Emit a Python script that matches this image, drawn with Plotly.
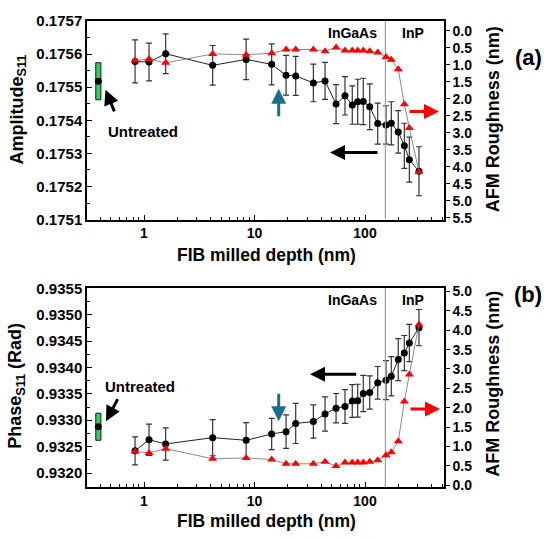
import numpy as np
import plotly.graph_objects as go

# ---------------- data ----------------
depth_nm = [0.83, 1.11, 1.57, 4.18, 8.4, 14.3, 19.3, 23.6, 34.1, 43.5, 54.7, 65.9,
            76.7, 85.9, 96.5, 110.4, 130.3, 155, 173, 200, 227, 252, 308]

amplitude_s11 = [0.175578, 0.175576, 0.175601, 0.175566, 0.175584, 0.175569, 0.175536,
                 0.175534, 0.175513, 0.175519, 0.175449, 0.175474, 0.175446, 0.175456,
                 0.175457, 0.175441, 0.175390, 0.175386, 0.175391, 0.175365, 0.175323,
                 0.175281, 0.175246]
amplitude_err = [6.5e-5, 5.7e-5, 6.0e-5, 6.0e-5, 6.1e-5, 6.2e-5, 6.0e-5, 5.9e-5, 5.7e-5,
                 5.6e-5, 5.9e-5, 5.8e-5, 5.8e-5, 6.8e-5, 7.0e-5, 6.9e-5, 6.2e-5, 5.8e-5,
                 6.5e-5, 6.4e-5, 6.8e-5, 6.8e-5, 7.4e-5]

phase_s11 = [0.93242, 0.93263, 0.93255, 0.93267, 0.93262, 0.93274, 0.932783, 0.932939,
             0.932976, 0.933117, 0.933228, 0.933259, 0.933365, 0.93337, 0.933506,
             0.933524, 0.933709, 0.933759, 0.933833, 0.934148, 0.934272, 0.934463,
             0.934754]
phase_err = [0.000265, 0.000296, 0.000306, 0.000343, 0.000333, 0.000296, 0.000318,
             0.00038, 0.000315, 0.000324, 0.000278, 0.00032, 0.000311, 0.000311,
             0.000343, 0.000315, 0.000309, 0.00037, 0.00037, 0.000398, 0.000333,
             0.000352, 0.000343]

afm_roughness_nm = [0.87, 0.83, 0.94, 0.68, 0.70, 0.66, 0.55, 0.55, 0.55, 0.60, 0.49,
                    0.58, 0.58, 0.58, 0.58, 0.60, 0.64, 0.77, 0.85, 1.13, 2.16, 2.86, 4.15]

untreated_depth = 0.386
untreated_amp, untreated_amp_err = 0.175518, 0.000056
untreated_phase, untreated_phase_err = 0.932876, 0.000256
interface_depth = 153

amp_ticks = [0.1751, 0.1752, 0.1753, 0.1754, 0.1755, 0.1756, 0.1757]
phase_ticks = [0.9320, 0.9325, 0.9330, 0.9335, 0.9340, 0.9345, 0.9350, 0.9355]
rough_ticks_a = [0.0, 0.5, 1.0, 1.5, 2.0, 2.5, 3.0, 3.5, 4.0, 4.5, 5.0, 5.5]
rough_ticks_b = [0.0, 0.5, 1.0, 1.5, 2.0, 2.5, 3.0, 3.5, 4.0, 4.5, 5.0]

# ---------------- layout helpers ----------------
W, H = 550, 538
L, R, T, B = 87, 106, 13, 51
PW, PH = W - L - R, H - T - B


def P(px, py):
    return (px - L) / PW, (H - B - py) / PH


FONT = "Liberation Sans, Arial, sans-serif"
XR = [-0.516, 2.715]
AMP_R = [0.1751, 0.1757]
RA_R = [5.55, -0.29]
PH_R = [0.931735, 0.93551]
RB_R = [-0.05, 5.10]

fig = go.Figure()

err_style = dict(type="data", color="#333333", thickness=1.2, width=3)
black_marker = dict(symbol="circle", size=7, color="black")
red_marker = dict(symbol="triangle-up", size=8, color="#ff0000")

# ---- panel (a)
fig.add_trace(go.Scatter(x=depth_nm, y=afm_roughness_nm, mode="lines+markers",
                         line=dict(color="#8a8a8a", width=1), marker=red_marker,
                         xaxis="x", yaxis="y2", showlegend=False))
fig.add_trace(go.Scatter(x=depth_nm, y=amplitude_s11, mode="lines+markers",
                         error_y=dict(array=amplitude_err, **err_style),
                         line=dict(color="#222222", width=1), marker=black_marker,
                         xaxis="x", yaxis="y", showlegend=False))
# untreated box (a)
rw = 1.055
fig.add_trace(go.Scatter(
    x=[untreated_depth / rw, untreated_depth * rw, untreated_depth * rw, untreated_depth / rw, untreated_depth / rw],
    y=[untreated_amp - untreated_amp_err] * 2 + [untreated_amp + untreated_amp_err] * 2 + [untreated_amp - untreated_amp_err],
    mode="lines", fill="toself", fillcolor="#2fd060", line=dict(color="#1a1a1a", width=1),
    xaxis="x", yaxis="y", showlegend=False, hoverinfo="skip"))
fig.add_trace(go.Scatter(x=[untreated_depth], y=[untreated_amp], mode="markers",
                         marker=black_marker, xaxis="x", yaxis="y", showlegend=False))
fig.add_trace(go.Scatter(x=[interface_depth] * 2, y=AMP_R, mode="lines",
                         line=dict(color="#a0a0a0", width=1.2), xaxis="x", yaxis="y",
                         showlegend=False, hoverinfo="skip"))

# ---- panel (b)
fig.add_trace(go.Scatter(x=depth_nm, y=afm_roughness_nm, mode="lines+markers",
                         line=dict(color="#8a8a8a", width=1), marker=red_marker,
                         xaxis="x2", yaxis="y4", showlegend=False))
fig.add_trace(go.Scatter(x=depth_nm, y=phase_s11, mode="lines+markers",
                         error_y=dict(array=phase_err, **err_style),
                         line=dict(color="#222222", width=1), marker=black_marker,
                         xaxis="x2", yaxis="y3", showlegend=False))
fig.add_trace(go.Scatter(
    x=[untreated_depth / rw, untreated_depth * rw, untreated_depth * rw, untreated_depth / rw, untreated_depth / rw],
    y=[untreated_phase - untreated_phase_err] * 2 + [untreated_phase + untreated_phase_err] * 2 + [untreated_phase - untreated_phase_err],
    mode="lines", fill="toself", fillcolor="#2fd060", line=dict(color="#1a1a1a", width=1),
    xaxis="x2", yaxis="y3", showlegend=False, hoverinfo="skip"))
fig.add_trace(go.Scatter(x=[untreated_depth], y=[untreated_phase], mode="markers",
                         marker=black_marker, xaxis="x2", yaxis="y3", showlegend=False))
fig.add_trace(go.Scatter(x=[interface_depth] * 2, y=PH_R, mode="lines",
                         line=dict(color="#a0a0a0", width=1.2), xaxis="x2", yaxis="y3",
                         showlegend=False, hoverinfo="skip"))

top_dom = [(H - B - 215) / PH, 1.0]
bot_dom = [0.0, (H - B - 284.3) / PH]

tickf = dict(family=FONT, size=14, color="black", weight="bold")
tickf_l = dict(family=FONT, size=15, color="black", weight="bold")

xcommon = dict(type="log", range=XR, showline=True, linecolor="black", linewidth=1.5,
               mirror=True, ticks="inside", ticklen=5, tickcolor="black",
               tickvals=[1, 10, 100], ticktext=["1", "10", "100"], tickfont=tickf,
               minor=dict(dtick="D1", ticks="inside", ticklen=3, tickcolor="black"),
               showgrid=False, zeroline=False)

ycommon_l = dict(showline=True, linecolor="black", linewidth=1.5, ticks="inside",
                 ticklen=5, tickcolor="black", tickfont=tickf_l, showgrid=False,
                 zeroline=False)
ycommon_r = dict(showline=True, linecolor="black", linewidth=1.5, ticks="outside",
                 ticklen=4, tickcolor="black", tickfont=tickf, showgrid=False,
                 zeroline=False, side="right")

fig.update_layout(
    width=W, height=H, margin=dict(l=L, r=R, t=T, b=B),
    plot_bgcolor="white", paper_bgcolor="white",
    xaxis=dict(domain=[0, 1], anchor="y", **xcommon),
    yaxis=dict(domain=top_dom, anchor="x", range=AMP_R, tickvals=amp_ticks,
               ticktext=[f"{v:.4f}" for v in amp_ticks],
               minor=dict(dtick=0.00005, ticks="inside", ticklen=3, tickcolor="black"),
               **ycommon_l),
    yaxis2=dict(overlaying="y", anchor="x", range=RA_R, tickvals=rough_ticks_a,
                ticktext=[f"{v:.1f}" for v in rough_ticks_a], **ycommon_r),
    xaxis2=dict(domain=[0, 1], anchor="y3", **xcommon),
    yaxis3=dict(domain=bot_dom, anchor="x2", range=PH_R, tickvals=phase_ticks,
                ticktext=[f"{v:.4f}" for v in phase_ticks],
                minor=dict(dtick=0.00025, ticks="inside", ticklen=3, tickcolor="black"),
                **ycommon_l),
    yaxis4=dict(overlaying="y3", anchor="x2", range=RB_R, tickvals=rough_ticks_b,
                ticktext=[f"{v:.1f}" for v in rough_ticks_b], **ycommon_r),
)

ann = []


def text(px, py, s, size, angle=0, color="black"):
    x, y = P(px, py)
    ann.append(dict(x=x, y=y, xref="paper", yref="paper", text=s, showarrow=False,
                    textangle=angle, xanchor="center", yanchor="middle",
                    font=dict(family=FONT, size=size, color=color, weight="bold")))


def arrow(tx, ty, hx, hy, color, width=3, size=1.0):
    x, y = P(hx, hy)
    ann.append(dict(x=x, y=y, xref="paper", yref="paper", text="", showarrow=True,
                    ax=tx - hx, ay=ty - hy, axref="pixel", ayref="pixel",
                    arrowhead=2, arrowsize=size, arrowwidth=width, arrowcolor=color,
                    standoff=0, startstandoff=0))


# axis titles
text(18, 103, "Amplitude<sub>S11</sub>", 18, -90)
text(266, 251.5, "FIB milled depth (nm)", 17.5)
text(493, 113, "AFM Roughness (nm)", 18, -90)
text(17, 384, "Phase<sub>S11</sub> (Rad)", 18, -90)
text(266, 521.5, "FIB milled depth (nm)", 17.5)
text(493, 382, "AFM Roughness (nm)", 18, -90)

# region labels
text(352, 25, "InGaAs", 14)
text(413, 25, "InP", 14)
text(352, 296.5, "InGaAs", 14)
text(413, 296.5, "InP", 14)

# panel labels
text(528, 50, "(a)", 22)
text(528, 291.5, "(b)", 22)

# untreated labels
text(143, 125, "Untreated", 15)
text(139.5, 385, "Untreated", 15)

# arrows (a)
arrow(408, 105, 439, 105, "#ff0000")
arrow(379, 146.7, 330, 146.7, "black")
arrow(278.7, 111, 278.7, 82, "#1b6f8c")
arrow(115, 106, 105.5, 83, "black")
# arrows (b)
arrow(357.7, 372.3, 310, 372.3, "black")
arrow(409, 407.7, 440, 407.7, "#ff0000")
arrow(278.7, 391, 278.7, 420, "#1b6f8c")
arrow(118.5, 396.5, 106, 420, "black")

fig.update_layout(annotations=ann)

fig.write_html(
    "out.html",
    config={"displayModeBar": False},
    post_script="document.body.style.margin='0';document.body.style.overflow='hidden';",
)
